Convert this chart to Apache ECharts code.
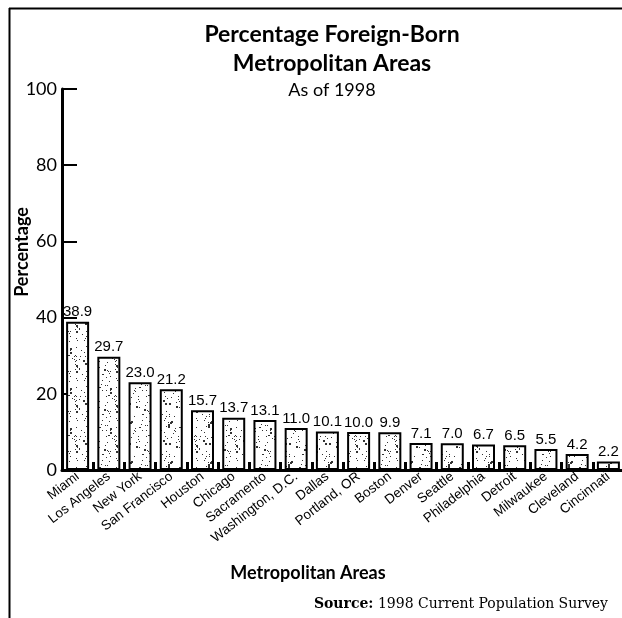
<!DOCTYPE html>
<html>
<head>
<meta charset="utf-8">
<script src="https://cdn.jsdelivr.net/npm/echarts@6/dist/echarts.min.js"></script>
<style>
  html, body { margin: 0; padding: 0; background: #fff; }
  #chart { width: 622px; height: 618px; }
</style>
</head>
<body>
<div id="chart"></div>
<script>
const cities = ['Miami', 'Los Angeles', 'New York', 'San Francisco', 'Houston', 'Chicago',
  'Sacramento', 'Washington, D.C.', 'Dallas', 'Portland, OR', 'Boston', 'Denver',
  'Seattle', 'Philadelphia', 'Detroit', 'Milwaukee', 'Cleveland', 'Cincinnati'];
const percentForeignBorn = [38.9, 29.7, 23.0, 21.2, 15.7, 13.7, 13.1, 11.0, 10.1, 10.0,
  9.9, 7.1, 7.0, 6.7, 6.5, 5.5, 4.2, 2.2];
const yTicks = [0, 20, 40, 60, 80, 100];

// speckled fill like the printed original
function speckle() {
  const c = document.createElement('canvas');
  c.width = 40; c.height = 40;
  const ctx = c.getContext('2d');
  ctx.fillStyle = '#fff';
  ctx.fillRect(0, 0, 40, 40);
  let s = 7;
  const rnd = () => { s = (s * 16807) % 2147483647; return s / 2147483647; };
  ctx.fillStyle = '#333';
  for (let i = 0; i < 80; i++) {
    const sz = rnd() < 0.15 ? 2 : 1;
    ctx.fillRect(Math.floor(rnd() * 40), Math.floor(rnd() * 40), sz, sz);
  }
  return c;
}

const narrow = '"Liberation Sans", Arial, sans-serif';
const humanist = 'Lato, "Open Sans", sans-serif';

const myChart = echarts.init(document.getElementById('chart'), null, { renderer: 'canvas' });

const option = {
  animation: false,
  backgroundColor: '#fff',
  title: [
    {
      text: 'Percentage Foreign-Born\nMetropolitan Areas',
      left: 327, top: 15, textAlign: 'center',
      textStyle: { fontFamily: humanist, fontSize: 23, fontWeight: 'bold', color: '#000', lineHeight: 29 }
    },
    {
      text: 'As of 1998',
      left: 327, top: 76, textAlign: 'center',
      textStyle: { fontFamily: humanist, fontSize: 18, fontWeight: 'normal', color: '#000' }
    }
  ],
  graphic: [
    { type: 'line', shape: { x1: 9.5, y1: 8, x2: 9.5, y2: 618 }, style: { stroke: '#000', lineWidth: 2 } },
    { type: 'line', shape: { x1: 9, y1: 8.5, x2: 622, y2: 8.5 }, style: { stroke: '#000', lineWidth: 2 } },
    {
      type: 'text', x: 22, y: 252, rotation: Math.PI / 2,
      style: {
        text: 'Percentage', align: 'center', verticalAlign: 'middle',
        fontFamily: humanist, fontSize: 18, fontWeight: 'bold', fill: '#000'
      }
    },
    {
      type: 'text', right: 14, top: 597,
      style: {
        text: '{b|Source:} 1998 Current Population Survey',
        fontFamily: '"DejaVu Serif", serif', fontSize: 14, fill: '#000',
        rich: { b: { fontFamily: '"DejaVu Serif", serif', fontSize: 14, fontWeight: 'bold' } }
      }
    }
  ],
  grid: { left: 62, top: 89, width: 562, bottom: 148, outerBoundsMode: 'none', containLabel: false },
  xAxis: {
    type: 'category',
    data: cities,
    name: 'Metropolitan Areas',
    nameLocation: 'middle',
    nameGap: 94,
    nameTextStyle: { fontFamily: humanist, fontSize: 18, fontWeight: 'bold', color: '#000', padding: [0, 70, 0, 0] },
    axisLine: { lineStyle: { color: '#000', width: 3 } },
    axisTick: { show: true, inside: true, length: 8, lineStyle: { color: '#000', width: 3 } },
    axisLabel: {
      rotate: 38, margin: 5, color: '#000',
      fontFamily: narrow, fontSize: 13.5
    }
  },
  yAxis: {
    type: 'value',
    min: yTicks[0], max: yTicks[yTicks.length - 1], interval: 20,
    axisLine: { show: true, lineStyle: { color: '#000', width: 3 } },
    axisTick: { show: true, inside: true, length: 15, lineStyle: { color: '#000', width: 2 } },
    splitLine: { show: false },
    axisLabel: { color: '#000', fontFamily: humanist, fontSize: 18, margin: 5 }
  },
  series: [
    {
      type: 'bar',
      data: percentForeignBorn,
      barWidth: 23,
      itemStyle: {
        color: { image: speckle(), repeat: 'repeat' },
        borderColor: '#000',
        borderWidth: 2
      },
      label: {
        show: true, position: 'top', distance: 2,
        color: '#000', fontFamily: narrow, fontSize: 15,
        formatter: p => p.value.toFixed(1)
      }
    }
  ]
};

option && myChart.setOption(option);
</script>
</body>
</html>
